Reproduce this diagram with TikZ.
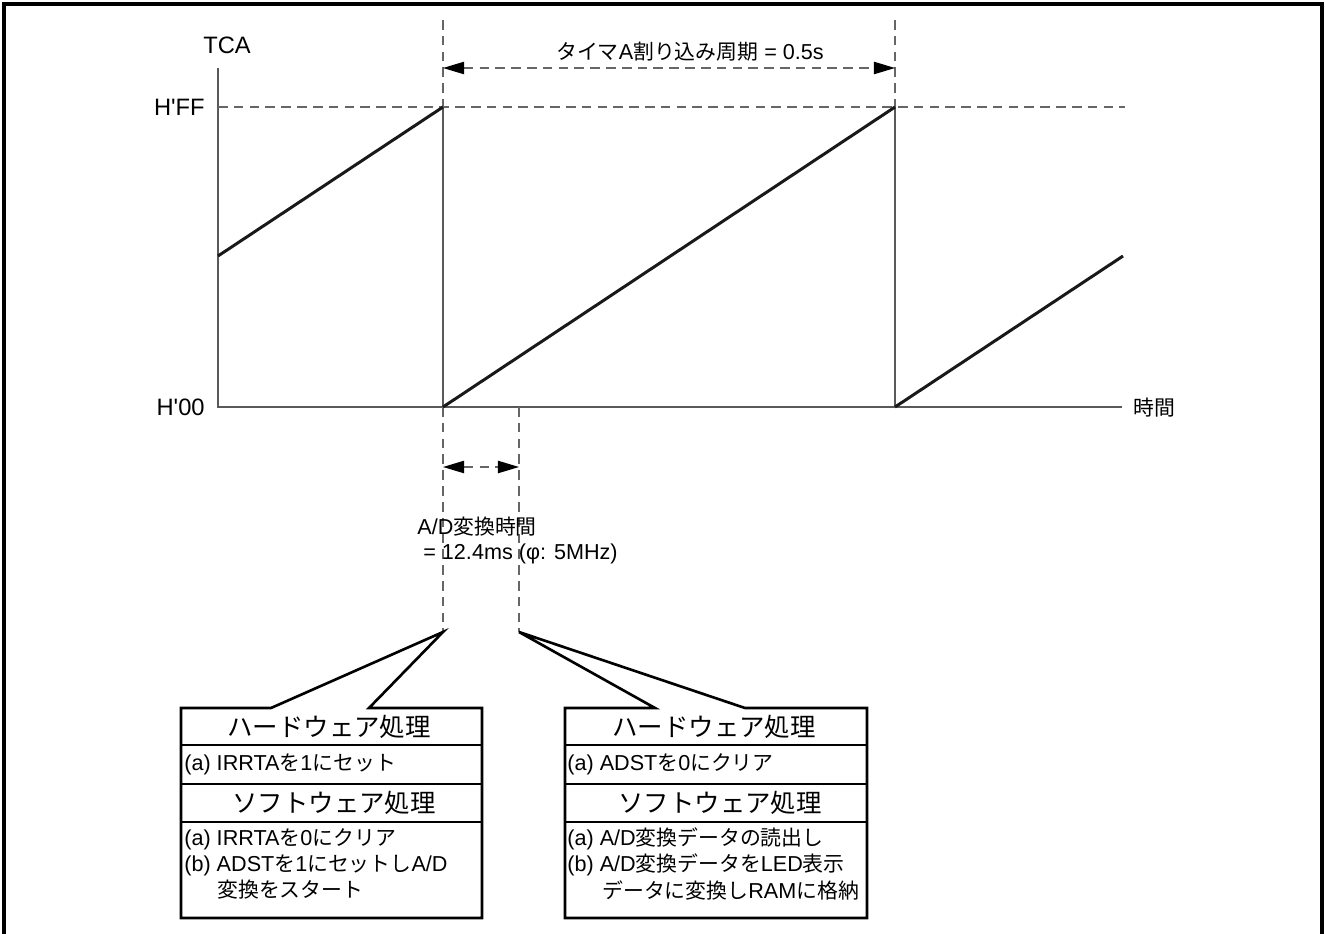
\documentclass[tikz,border=0pt]{standalone}
\usepackage{fontspec}
\setmainfont{Liberation Sans}
\newfontfamily\cjk[Scale=0.965]{Noto Sans CJK JP}
\newcommand{\jp}[1]{{\cjk #1}}
\usetikzlibrary{arrows.meta}

\begin{document}
\begin{tikzpicture}[x=0.02cm, y=-0.02cm,
    axis/.style={draw=black!65, line width=0.8pt},
    guide/.style={draw=black!60, line width=0.8pt, dash pattern=on 5.5pt off 3.5pt},
    span/.style={guide, {Triangle[length=12pt,width=7pt,color=black]}-{Triangle[length=12pt,width=7pt,color=black]}},
    ramp/.style={line width=1.7pt, black!90},
    box/.style={line width=1.5pt, line join=miter},
    txt/.style={inner sep=0pt, font=\fontsize{12.3}{14.5}\selectfont},
    axlbl/.style={inner sep=0pt, font=\fontsize{13.5}{16}\selectfont},
    head/.style={inner sep=0pt, font=\fontsize{15}{17}\selectfont\cjk},
    item/.style={txt, anchor=west}]
  \useasboundingbox (0,0) rectangle (1325,933);
  \draw[line width=2pt] (4,940) -- (4,4) -- (1322,4) -- (1322,940);

  \coordinate (o) at (218,407);
  \coordinate (ytop) at (218,68);
  \coordinate (xend) at (1122,407);
  \coordinate (ff) at (218,107);
  \coordinate (ffend) at (1125,107);
  \coordinate (t0) at (443,407);
  \coordinate (t0ff) at (443,107);
  \coordinate (t0up) at (443,20);
  \coordinate (t0dn) at (443,632);
  \coordinate (t1) at (895,407);
  \coordinate (t1ff) at (895,107);
  \coordinate (t1up) at (895,20);
  \coordinate (ad) at (519,407);
  \coordinate (addn) at (519,632);

  \draw[axis] (ytop) -- (o) -- (xend);
  \draw[axis] (t0ff) -- (t0);
  \draw[axis] (t1ff) -- (t1);
  \draw[guide] (ff) -- (ffend);
  \draw[guide] (t0up) -- (t0ff);
  \draw[guide] (t1up) -- (t1ff);
  \draw[guide] (t0) -- (t0dn);
  \draw[guide] (ad) -- (addn);

  \draw[ramp] (218,256) -- (t0ff);
  \draw[ramp] (t0) -- (t1ff);
  \draw[ramp] (t1) -- (1123,256);

  \node[axlbl] (tca) at (227,45) {TCA};
  \node[axlbl, anchor=east] (hff) at (205,107) {H\textquotesingle FF};
  \node[axlbl, anchor=east] (h00) at (205,407) {H\textquotesingle 00};
  \node[txt, anchor=west] (time) at (1133,408) {\jp{時間}};

  \draw[span] (443,68) -- (895,68);
  \node[txt] (period) at (690,52) {\jp{タイマ}A\jp{割り込み周期} = 0.5s};
  \draw[span] (443,467) -- (519,467);
  \node[txt, anchor=west, align=left, font=\fontsize{12.3}{14.2}\selectfont] (adtime) at (417,540)
    {A/D\jp{変換時間}\\\ = 12.4ms (φ: 5MHz)};

  \draw[box] (271,708) -- (t0dn) -- (369,708) -- (482,708) -- (482,918) -- (181,918) -- (181,708) -- cycle;
  \draw[box] (655,708) -- (addn) -- (745,708) -- (867,708) -- (867,918) -- (565,918) -- (565,708) -- cycle;
  \foreach \y in {745,784,822} {
    \draw[box] (181,\y) -- (482,\y);
    \draw[box] (565,\y) -- (867,\y);
  }

  \node[head] (lhw) at (329,727) {ハードウェア処理};
  \node[item] (lhwa) at (184,764) {(a) IRRTA\jp{を}1\jp{にセット}};
  \node[head] (lsw) at (334,803) {ソフトウェア処理};
  \node[item] (lswa) at (184,839) {(a) IRRTA\jp{を}0\jp{にクリア}};
  \node[item] (lswb) at (184,865) {(b) ADST\jp{を}1\jp{にセットし}A/D};
  \node[item] (lswc) at (217,890) {\jp{変換をスタート}};

  \node[head] (rhw) at (714,727) {ハードウェア処理};
  \node[item] (rhwa) at (567,764) {(a) ADST\jp{を}0\jp{にクリア}};
  \node[head] (rsw) at (720,803) {ソフトウェア処理};
  \node[item] (rswa) at (567,839) {(a) A/D\jp{変換データの読出し}};
  \node[item] (rswb) at (567,865) {(b) A/D\jp{変換データを}LED\jp{表示}};
  \node[item] (rswc) at (602,890) {\jp{データに変換し}RAM\jp{に格納}};
\end{tikzpicture}
\end{document}
